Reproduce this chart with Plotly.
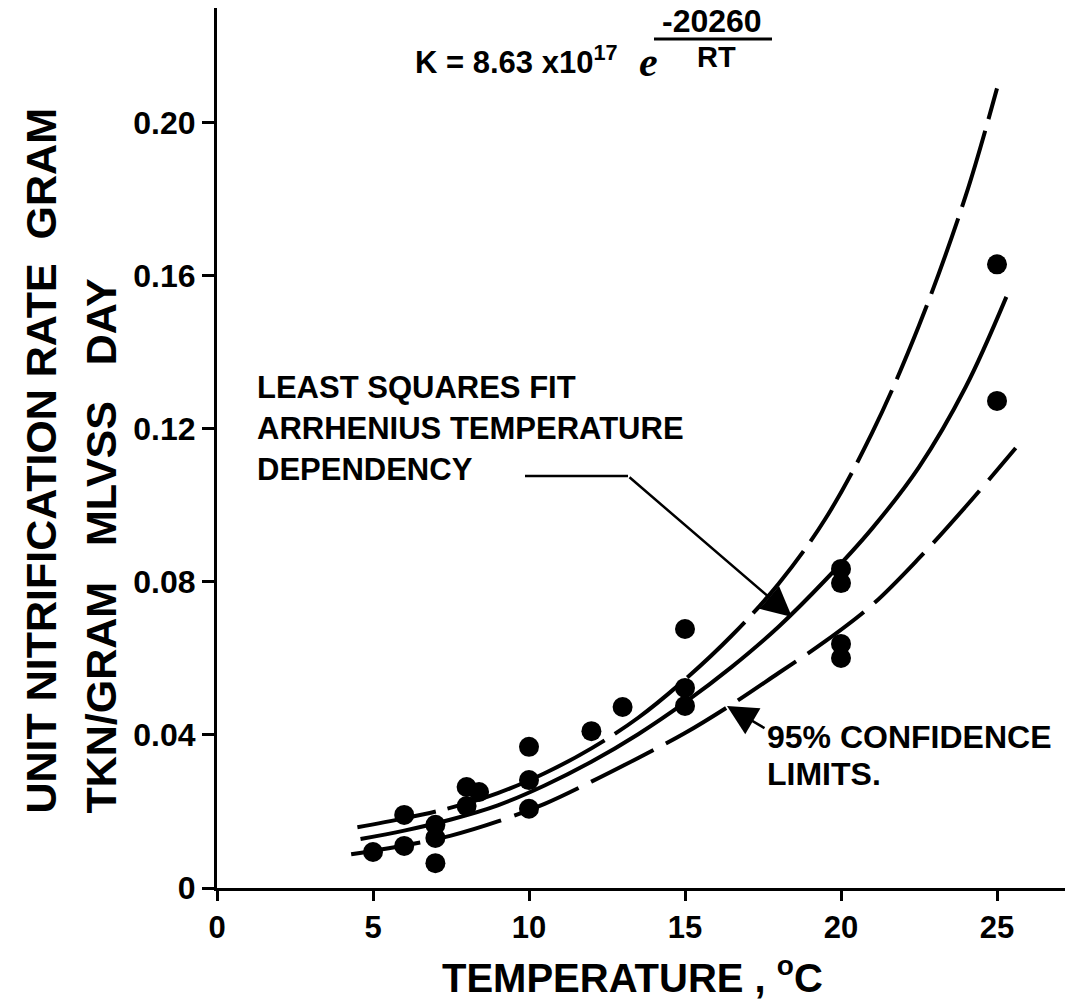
import plotly.graph_objects as go

# ---------------- data ----------------
temp_obs = [5, 6, 6, 7, 7, 7, 8, 8.4, 8, 10, 10, 10, 12, 13, 15, 15, 15, 20, 20, 20, 20, 25, 25]
rate_obs = [0.0094, 0.0110, 0.0191, 0.0165, 0.0131, 0.0065, 0.0264, 0.0251, 0.0214,
            0.0369, 0.0282, 0.0207, 0.0410, 0.0473, 0.0523, 0.0476, 0.0677,
            0.0834, 0.0797, 0.0638, 0.0601, 0.1630, 0.1273]

# least squares fit (solid)
temp_fit = [4.6, 6.0, 7.5, 9.0, 10.5, 12.0, 13.5, 15.0, 16.5, 18.0, 19.5, 21.0, 22.5, 24.0, 25.3]
rate_fit = [0.0128, 0.0150, 0.0179, 0.0216, 0.0268, 0.0330, 0.0402, 0.0485, 0.0578, 0.0683,
            0.0805, 0.0940, 0.1100, 0.1310, 0.1545]

# 95% confidence limits (dashed)
temp_upper = [4.5, 6.0, 7.5, 9.0, 10.5, 12.0, 13.5, 15.0, 16.5, 18.0, 19.5, 21.0, 22.5, 24.0, 25.0]
rate_upper = [0.0159, 0.0182, 0.0210, 0.0248, 0.0300, 0.0365, 0.0445, 0.0545, 0.0660, 0.0795,
              0.0965, 0.1190, 0.1470, 0.1810, 0.2090]

temp_lower = [4.3, 6.0, 7.5, 9.0, 10.5, 12.0, 13.5, 15.0, 16.5, 18.0, 19.5, 21.0, 22.5, 24.0, 25.6]
rate_lower = [0.0088, 0.0111, 0.0137, 0.0174, 0.0220, 0.0278, 0.0340, 0.0405, 0.0480, 0.0562,
              0.0645, 0.0740, 0.0862, 0.0997, 0.1150]

x_tickvals = [0, 5, 10, 15, 20, 25]
x_ticktext = ["0", "5", "10", "15", "20", "25"]
y_tickvals = [0, 0.04, 0.08, 0.12, 0.16, 0.20]
y_ticktext = ["0", "0.04", "0.08", "0.12", "0.16", "0.20"]

# ---------------- layout geometry ----------------
W, H = 1076, 1008
L, R, T, B = 217, 1065, 8, 888
XMAX = (R - L) / 31.2
YMAX = 0.23
FONT = "Liberation Sans, Arial, Helvetica, sans-serif"


def px_x(px):
    return (px - L) / (R - L)


def px_y(py):
    return (B - py) / (B - T)


def dx(px):
    return (px - L) / (R - L) * XMAX


def dy(py):
    return (B - py) / (B - T) * YMAX


fig = go.Figure()

fig.add_trace(go.Scatter(x=temp_upper, y=rate_upper, mode="lines",
                         line=dict(color="black", width=4, dash="80px,12px", shape="spline", smoothing=1),
                         hoverinfo="skip"))
fig.add_trace(go.Scatter(x=temp_fit, y=rate_fit, mode="lines",
                         line=dict(color="black", width=4, shape="spline", smoothing=1),
                         hoverinfo="skip"))
fig.add_trace(go.Scatter(x=temp_lower, y=rate_lower, mode="lines",
                         line=dict(color="black", width=4, dash="70px,14px", shape="spline", smoothing=1),
                         hoverinfo="skip"))
fig.add_trace(go.Scatter(x=temp_obs, y=rate_obs, mode="markers",
                         marker=dict(color="black", size=20, line=dict(width=0))))

ann = []
# equation
ann.append(dict(text="<b>K = 8.63 x10<sup>17</sup></b>", x=px_x(413), y=px_y(60), xref="paper", yref="paper",
                xanchor="left", yanchor="middle", showarrow=False,
                font=dict(family=FONT, size=31, color="black")))
ann.append(dict(text="<b><i>e</i></b>", x=px_x(648), y=px_y(62), xref="paper", yref="paper",
                xanchor="center", yanchor="middle", showarrow=False,
                font=dict(family="Liberation Serif, serif", size=42, color="black")))
ann.append(dict(text="<b>-20260</b>", x=px_x(712), y=px_y(21), xref="paper", yref="paper",
                xanchor="center", yanchor="middle", showarrow=False,
                font=dict(family=FONT, size=32, color="black")))
ann.append(dict(text="<b>RT</b>", x=px_x(716), y=px_y(57), xref="paper", yref="paper",
                xanchor="center", yanchor="middle", showarrow=False,
                font=dict(family=FONT, size=29, color="black")))
# fit label
for txt, yy in [("LEAST SQUARES FIT", 388), ("ARRHENIUS TEMPERATURE", 428), ("DEPENDENCY", 469)]:
    ann.append(dict(text="<b>" + txt + "</b>", x=px_x(255), y=px_y(yy), xref="paper", yref="paper",
                    xanchor="left", yanchor="middle", showarrow=False,
                    font=dict(family=FONT, size=31, color="black")))
# confidence label
for txt, yy in [("95% CONFIDENCE", 737), ("LIMITS.", 774)]:
    ann.append(dict(text="<b>" + txt + "</b>", x=px_x(765), y=px_y(yy), xref="paper", yref="paper",
                    xanchor="left", yanchor="middle", showarrow=False,
                    font=dict(family=FONT, size=32, color="black")))
# arrows
ann.append(dict(text="", x=dx(792), y=dy(617), ax=dx(628), ay=dy(476), xref="x", yref="y",
                axref="x", ayref="y", showarrow=True, arrowhead=2, arrowsize=2.4, arrowwidth=2.5,
                arrowcolor="black", standoff=0))
ann.append(dict(text="", x=dx(727), y=dy(706), ax=dx(766), ay=dy(729), xref="x", yref="y",
                axref="x", ayref="y", showarrow=True, arrowhead=2, arrowsize=2.4, arrowwidth=2.5,
                arrowcolor="black", standoff=0))
# axis titles
ann.append(dict(text="<b>UNIT NITRIFICATION RATE\u00a0\u00a0GRAM</b>", x=px_x(40), y=px_y(816),
                xref="paper", yref="paper", xanchor="center", yanchor="bottom", textangle=-90,
                showarrow=False, font=dict(family=FONT, size=43, color="black")))
ann.append(dict(text="<b>TKN/GRAM\u00a0\u00a0\u00a0MLVSS\u00a0\u00a0\u00a0DAY</b>", x=px_x(100), y=px_y(816),
                xref="paper", yref="paper", xanchor="center", yanchor="bottom", textangle=-90,
                showarrow=False, font=dict(family=FONT, size=43, color="black")))
ann.append(dict(text="<b>TEMPERATURE , <sup>o</sup>C</b>", x=px_x(632), y=px_y(975), xref="paper", yref="paper",
                xanchor="center", yanchor="middle", showarrow=False,
                font=dict(family=FONT, size=40, color="black")))

shapes = [
    dict(type="line", xref="paper", yref="paper", x0=px_x(654), x1=px_x(772), y0=px_y(39), y1=px_y(39),
         line=dict(color="black", width=3)),
    dict(type="line", xref="x", yref="y", x0=dx(525), x1=dx(628), y0=dy(476), y1=dy(476),
         line=dict(color="black", width=2.5)),
]

fig.update_layout(
    width=W, height=H, autosize=False,
    margin=dict(l=L, r=W - R, t=T, b=H - B, pad=0),
    paper_bgcolor="white", plot_bgcolor="white",
    showlegend=False,
    annotations=ann, shapes=shapes,
    font=dict(family=FONT, color="black"),
)
fig.update_xaxes(range=[0, XMAX], showgrid=False, zeroline=False, showline=True, linecolor="black", linewidth=3,
                 ticks="outside", ticklen=10, tickwidth=3, tickcolor="black",
                 tickvals=x_tickvals, ticktext=x_ticktext,
                 tickfont=dict(family=FONT, size=31, color="black", weight="bold"))
fig.update_yaxes(range=[0, YMAX], showgrid=False, zeroline=False, showline=True, linecolor="black", linewidth=3,
                 ticks="outside", ticklen=12, tickwidth=3, tickcolor="black",
                 tickvals=y_tickvals, ticktext=y_ticktext,
                 tickfont=dict(family=FONT, size=32, color="black", weight="bold"))

fig.write_html("out.html", config={"displayModeBar": False},
               post_script="document.body.style.margin='0';")
